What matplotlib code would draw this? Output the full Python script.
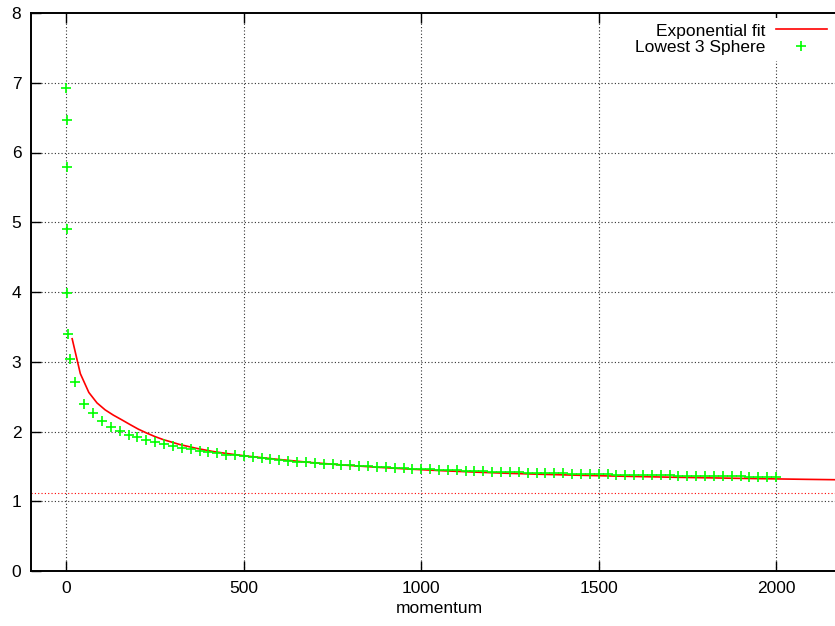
"""Gnuplot-style decay plot: lowest 3-sphere data with exponential fit."""
import matplotlib
matplotlib.use("Agg")
import matplotlib.pyplot as plt

plt.rcParams["font.family"] = ["Liberation Sans", "DejaVu Sans"]
plt.rcParams["font.size"] = 12.5

# measured points (momentum, value)
momentum = [
    0, 0.3, 0.7, 1.2, 2, 4, 10, 25,
    50, 75, 100, 125, 150, 175, 200, 225, 250, 275,
    300, 325, 350, 375, 400, 425, 450, 475, 500, 525,
    550, 575, 600, 625, 650, 675, 700, 725, 750, 775,
    800, 825, 850, 875, 900, 925, 950, 975, 1000, 1025,
    1050, 1075, 1100, 1125, 1150, 1175, 1200, 1225, 1250, 1275,
    1300, 1325, 1350, 1375, 1400, 1425, 1450, 1475, 1500, 1525,
    1550, 1575, 1600, 1625, 1650, 1675, 1700, 1725, 1750, 1775,
    1800, 1825, 1850, 1875, 1900, 1925, 1950, 1975, 2000,
]
sphere = [
    6.92, 6.47, 5.79, 4.90, 3.99, 3.40, 3.035, 2.71,
    2.40, 2.26, 2.15, 2.07, 2.01, 1.955, 1.915, 1.880, 1.850, 1.820,
    1.790, 1.765, 1.745, 1.725, 1.706, 1.687, 1.670, 1.657, 1.645, 1.630,
    1.617, 1.605, 1.592, 1.581, 1.569, 1.558, 1.548, 1.539, 1.530, 1.522,
    1.515, 1.507, 1.500, 1.493, 1.486, 1.480, 1.474, 1.468, 1.462, 1.457,
    1.452, 1.447, 1.442, 1.438, 1.434, 1.430, 1.426, 1.422, 1.418, 1.415,
    1.411, 1.408, 1.405, 1.402, 1.399, 1.396, 1.393, 1.391, 1.388, 1.386,
    1.383, 1.381, 1.379, 1.376, 1.374, 1.372, 1.370, 1.368, 1.366, 1.364,
    1.362, 1.360, 1.358, 1.357, 1.355, 1.353, 1.352, 1.350, 1.348,
]

# fit curve as sampled by gnuplot
fit_x = [
    16, 39, 63, 86, 109, 132, 155, 179, 202, 225, 248, 272, 318, 365,
    411, 458, 504, 597, 690, 783, 876, 969, 1062, 1155, 1248, 1341,
    1434, 1527, 1620, 1713, 1806, 1899, 1992, 2085, 2178,
]
fit_y = [
    3.33, 2.83, 2.56, 2.41, 2.31, 2.235, 2.17, 2.10, 2.035, 1.98, 1.93,
    1.885, 1.815, 1.76, 1.715, 1.68, 1.65, 1.60, 1.555, 1.518, 1.487,
    1.46, 1.437, 1.417, 1.40, 1.386, 1.374, 1.363, 1.353, 1.344, 1.336,
    1.328, 1.321, 1.314, 1.308,
]
asymptote = 1.12

x_ticks = [0, 500, 1000, 1500, 2000]
y_ticks = [0, 1, 2, 3, 4, 5, 6, 7, 8]

fig = plt.figure(figsize=(8.35, 6.26), dpi=100)
ax = fig.add_axes([31 / 835, 55 / 626, 816 / 835, 558 / 626])

grid_style = dict(color="#303030", linestyle=(0, (1, 2)), linewidth=0.8, zorder=1)
for t in x_ticks:
    ax.axvline(t, **grid_style)
for t in y_ticks[1:-1]:
    ax.axhline(t, **grid_style)
ax.axhline(asymptote, color="#ff0000", linestyle=(0, (1, 2)), linewidth=0.8, zorder=1)

ax.plot(fit_x, fit_y, color="#ff0000", linewidth=1.2, label="Exponential fit", zorder=3)
ax.plot(momentum, sphere, linestyle="none", marker="+", markersize=7,
        markeredgewidth=1.2, color="#00ff00", label="Lowest 3 Sphere", zorder=4)

ax.set_xlim(-100, 2200)
ax.set_ylim(0, 8)
ax.set_xticks(x_ticks)
ax.set_yticks(y_ticks)
ax.tick_params(direction="in", length=7, width=1, top=True, right=True, pad=7)
for s in ax.spines.values():
    s.set_linewidth(1.4)
ax.set_xlabel("momentum", labelpad=4)

leg = ax.legend(loc="upper right", bbox_to_anchor=(806 / 816, 1.0),
                markerfirst=False, frameon=True, fancybox=False,
                handlelength=2.9, handletextpad=0.65, borderpad=0.3,
                labelspacing=0.1, borderaxespad=0.3)
leg.get_frame().set_facecolor("white")
leg.get_frame().set_edgecolor("none")
leg.get_frame().set_alpha(1.0)
for t in leg.get_texts():
    t.set_ha("right")

fig.savefig("out.png", dpi=100)
